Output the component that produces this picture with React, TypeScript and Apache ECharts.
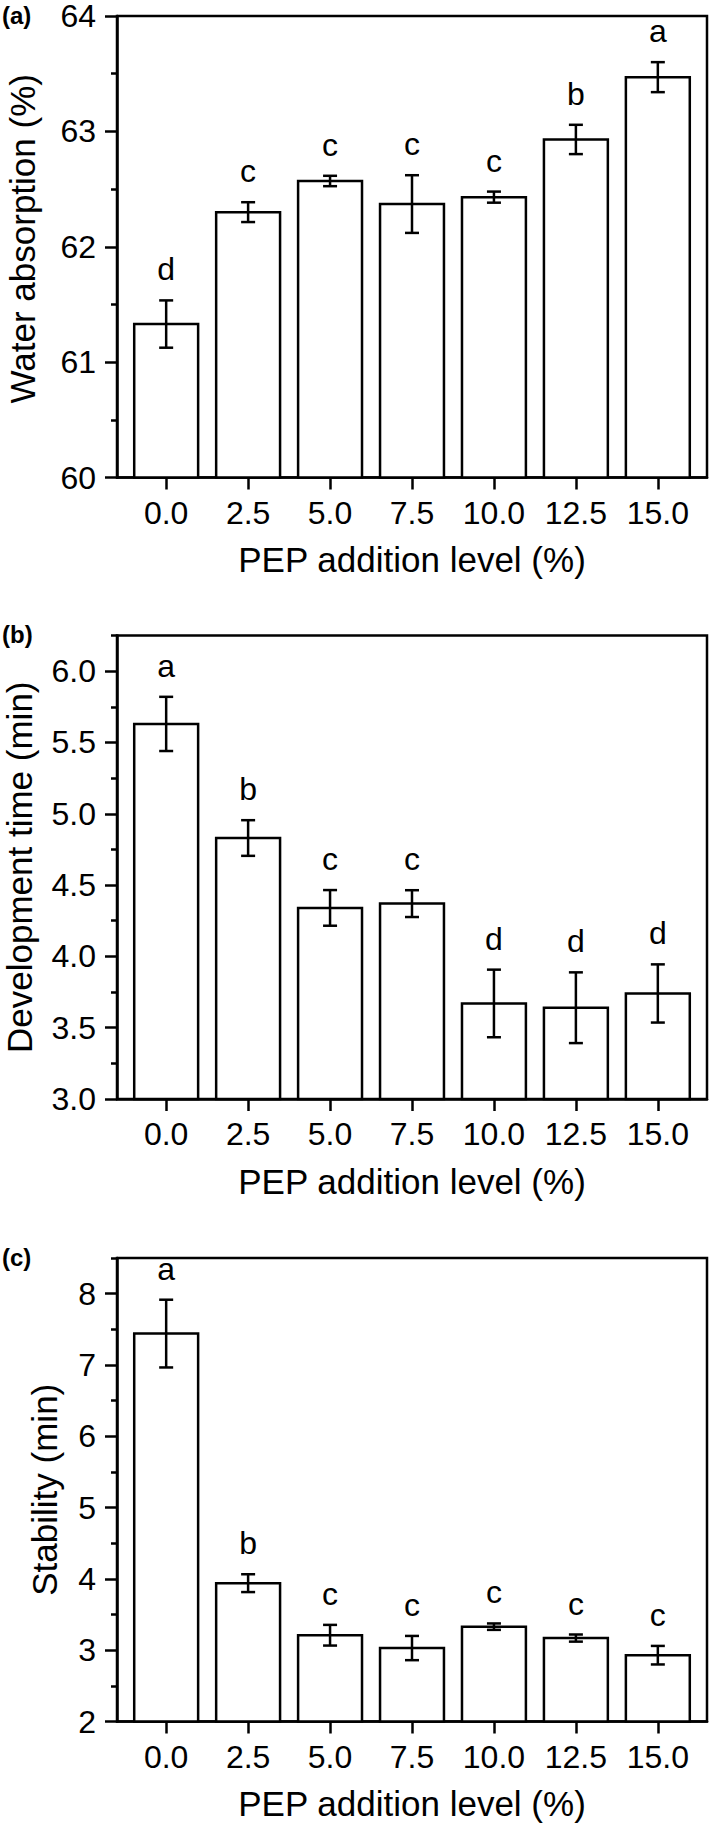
import React, { useEffect, useRef } from "react";
import * as echarts from "echarts";

const categories = ["0.0", "2.5", "5.0", "7.5", "10.0", "12.5", "15.0"];
const xTickValues = [0, 1, 2, 3, 4, 5, 6];

const waterAbsorption = [61.33, 62.3, 62.57, 62.37, 62.43, 62.93, 63.47];
const waterAbsorptionErr = [0.205, 0.086, 0.045, 0.25, 0.048, 0.127, 0.13];
const waterAbsorptionLetters = ["d", "c", "c", "c", "c", "b", "a"];
const waterTicks = [60, 61, 62, 63, 64];
const waterMinorTicks = [60.5, 61.5, 62.5, 63.5];

const developmentTime = [5.63, 4.83, 4.34, 4.37, 3.67, 3.64, 3.74];
const developmentTimeErr = [0.19, 0.125, 0.125, 0.094, 0.237, 0.248, 0.204];
const developmentTimeLetters = ["a", "b", "c", "c", "d", "d", "d"];
const devTicks = [3.0, 3.5, 4.0, 4.5, 5.0, 5.5, 6.0];
const devMinorTicks = [3.25, 3.75, 4.25, 4.75, 5.25, 5.75, 6.25];

const stability = [7.44, 3.94, 3.21, 3.03, 3.33, 3.17, 2.93];
const stabilityErr = [0.475, 0.125, 0.145, 0.17, 0.045, 0.05, 0.13];
const stabilityLetters = ["a", "b", "c", "c", "c", "c", "c"];
const stabTicks = [2, 3, 4, 5, 6, 7, 8];
const stabMinorTicks = [2.5, 3.5, 4.5, 5.5, 6.5, 7.5, 8.5];

const FONT = '"Liberation Sans", Arial, Helvetica, sans-serif';
const LW = 2.5;

const panels = [
  {
    label: "(a)",
    name: "Water absorption (%)",
    values: waterAbsorption,
    errs: waterAbsorptionErr,
    letters: waterAbsorptionLetters,
    min: 60,
    max: 64,
    ticks: waterTicks,
    minor: waterMinorTicks,
    fmt: (v: number) => String(Math.round(v)),
    top: 16,
    height: 461.5,
    nameGap: 81,
    namePad: [0, 0, 0, 16],
  },
  {
    label: "(b)",
    name: "Development time (min)",
    values: developmentTime,
    errs: developmentTimeErr,
    letters: developmentTimeLetters,
    min: 3,
    max: 6.25,
    ticks: devTicks,
    minor: devMinorTicks,
    fmt: (v: number) => v.toFixed(1),
    top: 635.5,
    height: 463.5,
    nameGap: 84,
    namePad: [0, 0, 0, 0],
  },
  {
    label: "(c)",
    name: "Stability (min)",
    values: stability,
    errs: stabilityErr,
    letters: stabilityLetters,
    min: 2,
    max: 8.5,
    ticks: stabTicks,
    minor: stabMinorTicks,
    fmt: (v: number) => String(Math.round(v)),
    top: 1258,
    height: 463.5,
    nameGap: 59,
    namePad: [0, 0, 0, 0],
  },
];

export default function App() {
  const ref = useRef<HTMLDivElement>(null);

  useEffect(() => {
    if (!ref.current) return;
    const chart = echarts.init(ref.current, null, { renderer: "svg" });

    const grid: any[] = [];
    const xAxis: any[] = [];
    const yAxis: any[] = [];
    const series: any[] = [];
    const graphic: any[] = [];

    panels.forEach((p, i) => {
      grid.push({
        left: 117,
        right: 2,
        top: p.top,
        height: p.height,
        show: true,
        borderColor: "#000",
        borderWidth: LW,
        backgroundColor: "transparent",
        outerBoundsMode: "none",
        containLabel: false,
      });
      xAxis.push({
        type: "value",
        gridIndex: i,
        min: -0.6,
        max: 6.6,
        axisLine: { show: true, onZero: false, lineStyle: { color: "#000", width: LW } },
        axisTick: { show: true, customValues: xTickValues, length: 12, lineStyle: { color: "#000", width: LW } },
        axisLabel: {
          show: true,
          customValues: xTickValues,
          formatter: (v: number) => categories[Math.round(v)],
          margin: 20,
          color: "#000",
          fontSize: 32,
          lineHeight: 30,
          fontFamily: FONT,
        },
        splitLine: { show: false },
        name: "PEP addition level (%)",
        nameLocation: "middle",
        nameGap: 67,
        nameTextStyle: { color: "#000", fontSize: 35, lineHeight: 30, fontFamily: FONT },
      });
      yAxis.push({
        type: "value",
        gridIndex: i,
        position: "left",
        min: p.min,
        max: p.max,
        axisLine: { show: true, onZero: false, lineStyle: { color: "#000", width: LW } },
        axisTick: { show: true, customValues: p.ticks, length: 12, lineStyle: { color: "#000", width: LW } },
        axisLabel: {
          show: true,
          customValues: p.ticks,
          formatter: p.fmt,
          margin: 21,
          color: "#000",
          fontSize: 32,
          lineHeight: 28,
          fontFamily: FONT,
        },
        splitLine: { show: false },
        name: p.name,
        nameLocation: "middle",
        nameGap: p.nameGap,
        nameTextStyle: { color: "#000", fontSize: 35, lineHeight: 28, fontFamily: FONT, padding: p.namePad },
      });
      yAxis.push({
        type: "value",
        gridIndex: i,
        position: "left",
        offset: 0,
        min: p.min,
        max: p.max,
        axisLine: { show: false, onZero: false },
        axisTick: { show: true, customValues: p.minor, length: 6, lineStyle: { color: "#000", width: LW } },
        axisLabel: { show: false },
        splitLine: { show: false },
      });

      const data = p.values.map((v, k) => [k, v, p.errs[k]]);
      series.push({
        type: "custom",
        xAxisIndex: i,
        yAxisIndex: 2 * i,
        clip: false,
        data,
        renderItem: (params: any, api: any) => {
          const x = api.value(0);
          const v = api.value(1);
          const e = api.value(2);
          const pt = api.coord([x, v]);
          const base = api.coord([x, p.min]);
          const w = api.size([0.78, 0])[0];
          const hi = api.coord([x, v + e]);
          const lo = api.coord([x, v - e]);
          const cap = 7;
          const letter = p.letters[params.dataIndex];
          return {
            type: "group",
            children: [
              {
                type: "rect",
                shape: { x: pt[0] - w / 2, y: pt[1], width: w, height: base[1] - pt[1] },
                style: { fill: "#fff", stroke: "#000", lineWidth: LW },
              },
              {
                type: "line",
                shape: { x1: hi[0], y1: hi[1], x2: lo[0], y2: lo[1] },
                style: { stroke: "#000", lineWidth: LW },
              },
              {
                type: "line",
                shape: { x1: hi[0] - cap, y1: hi[1], x2: hi[0] + cap, y2: hi[1] },
                style: { stroke: "#000", lineWidth: LW },
              },
              {
                type: "line",
                shape: { x1: lo[0] - cap, y1: lo[1], x2: lo[0] + cap, y2: lo[1] },
                style: { stroke: "#000", lineWidth: LW },
              },
              {
                type: "text",
                x: hi[0],
                y: hi[1] - 15,
                style: {
                  text: letter,
                  fill: "#000",
                  font: `32px ${FONT}`,
                  align: "center",
                  verticalAlign: "bottom",
                  textAlign: "center",
                  textVerticalAlign: "bottom",
                },
              },
            ],
          };
        },
      });

      graphic.push({
        type: "text",
        x: 2,
        y: Math.max(p.top - 1, 13),
        style: {
          text: p.label,
          fill: "#000",
          font: `bold 24px ${FONT}`,
          verticalAlign: "middle",
          textVerticalAlign: "middle",
        },
      });
    });

    chart.setOption({
      animation: false,
      backgroundColor: "#fff",
      grid,
      xAxis,
      yAxis,
      series,
      graphic,
    });

    return () => chart.dispose();
  }, []);

  return (
    <div
      ref={ref}
      style={{ position: "absolute", left: 0, top: 0, width: 709, height: 1823 }}
    />
  );
}
